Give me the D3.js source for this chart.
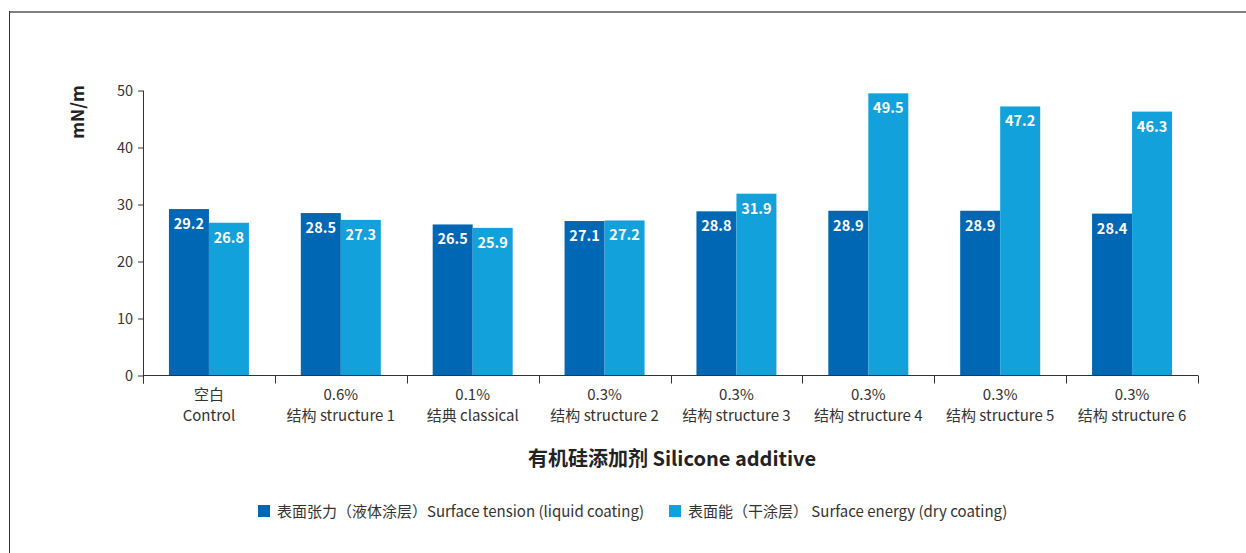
<!DOCTYPE html>
<html>
<head>
<meta charset="utf-8">
<script src="https://cdn.jsdelivr.net/npm/d3@7"></script>
<style>
  html, body { margin: 0; padding: 0; background: #fff; }
  svg { display: block; font-family: "Noto Sans CJK SC", "Noto Sans", sans-serif; }
</style>
</head>
<body>
<svg id="chart" width="1246" height="553"></svg>
<script>
// Category labels (two lines each)
const categoryTop = ["空白", "0.6%", "0.1%", "0.3%", "0.3%", "0.3%", "0.3%", "0.3%"];
const categoryBottom = ["Control", "结构 structure 1", "结典 classical", "结构 structure 2",
                        "结构 structure 3", "结构 structure 4", "结构 structure 5", "结构 structure 6"];
// Surface tension (liquid coating), mN/m
const surfaceTension = [29.2, 28.5, 26.5, 27.1, 28.8, 28.9, 28.9, 28.4];
// Surface energy (dry coating), mN/m
const surfaceEnergy = [26.8, 27.3, 25.9, 27.2, 31.9, 49.5, 47.2, 46.3];
const yTicks = [0, 10, 20, 30, 40, 50];
const seriesNames = ["表面张力（液体涂层）Surface tension (liquid coating)",
                     "表面能（干涂层） Surface energy (dry coating)"];
const colors = ["#0067b4", "#13a1db"];

const svg = d3.select("#chart");
const plotLeft = 143, plotRight = 1198, plotTop = 90.5, plotBottom = 375.5;

// frame lines
svg.append("line").attr("x1", 9).attr("x2", 1246).attr("y1", 12).attr("y2", 12)
  .attr("stroke", "#808080").attr("stroke-width", 2);
svg.append("line").attr("x1", 9.5).attr("x2", 9.5).attr("y1", 11).attr("y2", 553)
  .attr("stroke", "#333").attr("stroke-width", 1);

const x = d3.scaleBand().domain(d3.range(categoryTop.length)).range([plotLeft, plotRight]).padding(0);
const y = d3.scaleLinear().domain([0, 50]).range([plotBottom, plotTop]);
const barW = 40;

// bars with value labels
const series = [surfaceTension, surfaceEnergy];
series.forEach((vals, si) => {
  const g = svg.append("g");
  g.selectAll("rect").data(vals).join("rect")
    .attr("x", (d, i) => x(i) + x.bandwidth() / 2 - barW + si * barW)
    .attr("width", barW)
    .attr("y", d => y(d))
    .attr("height", d => y(0) - y(d))
    .attr("fill", colors[si]);
  g.selectAll("text").data(vals).join("text")
    .attr("x", (d, i) => x(i) + x.bandwidth() / 2 - barW / 2 + si * barW)
    .attr("y", d => y(d) + 20)
    .attr("text-anchor", "middle")
    .attr("fill", "#fff")
    .attr("font-size", 14.5)
    .attr("font-weight", "bold")
    .text(d => d.toFixed(1));
});

// y axis
const yAxis = svg.append("g").attr("transform", `translate(${plotLeft},0)`)
  .call(d3.axisLeft(y).tickValues(yTicks).tickSize(5).tickPadding(5));
yAxis.select(".domain").attr("d", `M0.5,${plotTop}V${plotBottom + 8}`).attr("stroke", "#333");
yAxis.selectAll(".tick line").attr("stroke", "#333");
yAxis.selectAll(".tick text").attr("font-size", 14.5).attr("fill", "#333")
  .attr("font-family", "'Noto Sans CJK SC', sans-serif");

// x axis
const xAxisG = svg.append("g").attr("transform", `translate(0,${plotBottom})`);
xAxisG.append("line").attr("x1", plotLeft).attr("x2", plotRight).attr("y1", 0).attr("y2", 0)
  .attr("stroke", "#333");
const bounds = d3.range(categoryTop.length + 1).map(i => i < categoryTop.length ? x(i) : plotRight);
xAxisG.selectAll("line.tk").data(bounds).join("line").attr("class", "tk")
  .attr("x1", d => Math.round(d) + 0.5).attr("x2", d => Math.round(d) + 0.5)
  .attr("y1", 0).attr("y2", 8).attr("stroke", "#333");
const labels = xAxisG.selectAll("text.cat").data(categoryTop).join("text").attr("class", "cat")
  .attr("text-anchor", "middle").attr("font-size", 15).attr("fill", "#333");
labels.append("tspan").attr("x", (d, i) => x(i) + x.bandwidth() / 2).attr("y", 24).text(d => d);
labels.append("tspan").attr("x", (d, i) => x(i) + x.bandwidth() / 2).attr("y", 45)
  .text((d, i) => categoryBottom[i]);

// axis titles
svg.append("text").attr("transform", "translate(84,112) rotate(-90)")
  .attr("text-anchor", "middle").attr("font-size", 17.5).attr("font-weight", "bold")
  .attr("fill", "#222").text("mN/m");
svg.append("text").attr("x", 672).attr("y", 466).attr("text-anchor", "middle")
  .attr("font-size", 20).attr("font-weight", "bold").attr("fill", "#222")
  .text("有机硅添加剂 Silicone additive");

// legend
const legendX = [258, 669];
seriesNames.forEach((name, i) => {
  svg.append("rect").attr("x", legendX[i]).attr("y", 505).attr("width", 12).attr("height", 12)
    .attr("fill", colors[i]);
  svg.append("text").attr("x", legendX[i] + 19).attr("y", 517).attr("font-size", 15)
    .attr("fill", "#333").text(name);
});
</script>
</body>
</html>
